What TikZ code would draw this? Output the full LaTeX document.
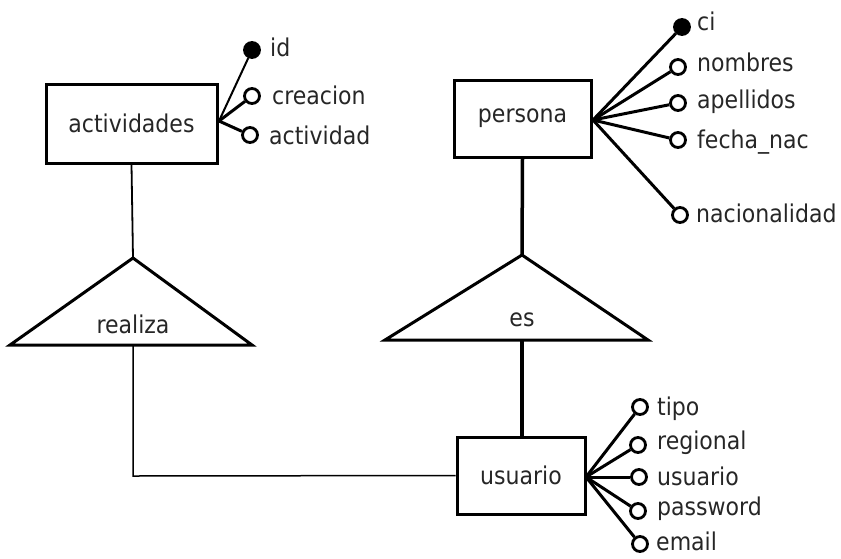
\documentclass[tikz,border=0pt]{standalone}
\usepackage{fontspec}
\setmainfont{DejaVu Sans Condensed}
\begin{document}
\begin{tikzpicture}[x=1pt,y=-1pt,
  txt/.style={font=\fontsize{24.5}{26}\selectfont,text=black!85},
  entity/.style={draw=black,line width=3pt,minimum width=#1,minimum height=77pt,inner sep=0pt,txt},
  entity/.default=137pt,
  attr/.style={circle,draw=black,line width=2.8pt,fill=white,minimum size=15pt,inner sep=0pt},
  keyattr/.style={attr,fill=black},
  lbl/.style={anchor=west,inner sep=0pt,txt},
  rel/.style={draw=black,line width=3pt,line join=miter},
  link/.style={draw=black,line width=#1},
  link/.default=3pt]
\useasboundingbox (0,0) rectangle (841,558);

% entities
\node[entity=171pt,minimum height=79pt] (act) at (131.5,123.5) {actividades};
\node[entity] (per) at (522.5,118.5) {persona};
\node[entity=128pt] (usu) at (521,475.5) {usuario};

% relationship triangles
\coordinate (rtop) at (133,258);
\coordinate (rbase) at (133,345);
\draw[rel] (rtop) -- (252,345) -- (10,345) -- cycle;
\node[txt] (rlbl) at (133,324) {realiza};

\coordinate (etop) at (522,255);
\coordinate (ebase) at (522,340);
\draw[rel] (etop) -- (648,340) -- (385,340) -- cycle;
\node[txt] (elbl) at (522,320) {es};

% relationship connectors
\draw[link=1.8pt] (act.south) -- (rtop);
\coordinate (rcorner) at (133,476);
\draw[link=1.5pt] (rbase) -- (rcorner) -- (usu.west);
\draw[link=3.5pt] (per.south) -- (etop);
\draw[link=3.5pt] (ebase) -- (ebase |- usu.north);

% actividades attributes
\coordinate (aj) at (219,121);
\node[keyattr] (a1) at (252,50) {};
\node[attr] (a2) at (252,96) {};
\node[attr] (a3) at (250,135) {};
\draw[link=2pt] (aj) -- (a1);
\draw[link=3pt] (aj) -- (a2);
\draw[link=3pt] (aj) -- (a3);
\node[lbl] (a1t) at (270,47) {id};
\node[lbl] (a2t) at (272,95) {creacion};
\node[lbl] (a3t) at (269,135) {actividad};

% persona attributes
\coordinate (pj) at (593,120);
\node[keyattr] (p1) at (682,27) {};
\node[attr] (p2) at (678,67) {};
\node[attr] (p3) at (678,103) {};
\node[attr] (p4) at (678,140) {};
\node[attr] (p5) at (680,215) {};
\foreach \i in {1,...,5} {\draw[link] (pj) -- (p\i);}
\node[lbl] (p1t) at (697,21) {ci};
\node[lbl] (p2t) at (697,62) {nombres};
\node[lbl] (p3t) at (697,102) {apellidos};
\node[lbl] (p4t) at (697,142) {fecha\_nac};
\node[lbl] (p5t) at (696,213) {nacionalidad};

% usuario attributes
\coordinate (uj) at (586,477);
\node[attr] (u1) at (640,407) {};
\node[attr] (u2) at (638,445) {};
\node[attr] (u3) at (639,477) {};
\node[attr] (u4) at (638,511) {};
\node[attr] (u5) at (640,544) {};
\foreach \i in {1,...,5} {\draw[link] (uj) -- (u\i);}
\node[lbl] (u1t) at (657,409) {tipo};
\node[lbl] (u2t) at (657,443) {regional};
\node[lbl] (u3t) at (657,476) {usuario};
\node[lbl] (u4t) at (657,509) {password};
\node[lbl] (u5t) at (656,541) {email};
\end{tikzpicture}
\end{document}
